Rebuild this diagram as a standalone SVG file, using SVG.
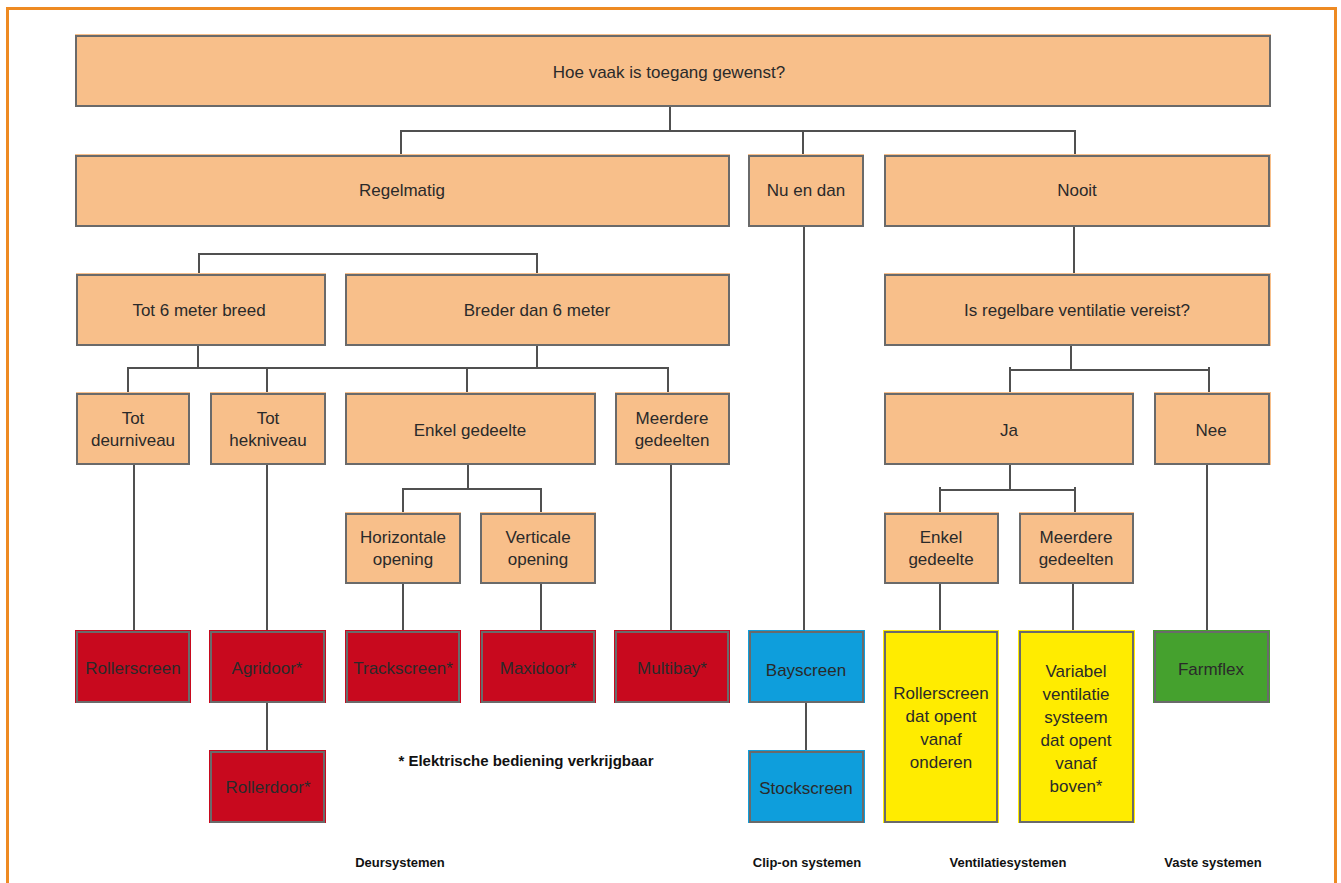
<svg xmlns="http://www.w3.org/2000/svg" width="1341" height="883" viewBox="0 0 1341 883">
<style>
.o{fill:#F8BF8A}.r{fill:#C8091E}.b{fill:#0E9EDC}.y{fill:#FFEC00}.g{fill:#45A12E}
.s{fill:none;stroke:#6A6A6A;stroke-width:2}
text{font-family:"Liberation Sans",Arial,sans-serif;font-size:17px;fill:#2a2a2a;text-anchor:middle;dominant-baseline:central}
.lbl{font-weight:bold;font-size:13px;fill:#111}
.fn{font-weight:bold;font-size:15px;fill:#111}
#conn path{fill:none;stroke:#505050;stroke-width:2}
</style>
<rect width="1341" height="883" fill="#fff"/>
<path d="M7.5,883 V8.5 H1335.5 V883" fill="none" stroke="#EE8A22" stroke-width="3"/>
<g id="conn">
<path d="M670,106 V131 M401,155 V131 H1075 V155 M803,131 V155"/>
<path d="M199,275 V254 H537 V275"/>
<path d="M198,346 V368 M537,346 V368 M128,393 V368 H668 V393 M267,368 V393 M467,368 V393"/>
<path d="M468,464 V489 M403,513 V489 H541 V513"/>
<path d="M134,464 V631 M267,464 V631 M403,583 V631 M541,583 V631 M671,464 V631 M267,702 V752"/>
<path d="M804,226 V631 M806,702 V752"/>
<path d="M1074,226 V275 M1071,346 V370 M1010,367 V393 M1010,370 H1209 M1209,367 V393"/>
<path d="M1010,464 V490 M940,487 V513 M940,490 H1075 M1075,487 V513"/>
<path d="M940,583 V631 M1073,583 V631 M1207,464 V631"/>
</g>
<g id="n-top"><rect class="o" x="75" y="34" width="1196" height="73"/><rect class="s" x="76" y="36" width="1194" height="70"/><text x="669" y="72">Hoe vaak is toegang gewenst?</text></g>
<g id="n-regel"><rect class="o" x="75" y="154" width="655" height="73"/><rect class="s" x="76" y="156" width="653" height="70"/><text x="402" y="190">Regelmatig</text></g>
<g id="n-nuendan"><rect class="o" x="748" y="154" width="116" height="73"/><rect class="s" x="749" y="156" width="114" height="70"/><text x="806" y="190">Nu en dan</text></g>
<g id="n-nooit"><rect class="o" x="884" y="154" width="387" height="73"/><rect class="s" x="885" y="156" width="384" height="70"/><text x="1077" y="190">Nooit</text></g>
<g id="n-tot6"><rect class="o" x="76" y="273" width="250" height="73"/><rect class="s" x="77" y="275" width="248" height="70"/><text x="199" y="310">Tot 6 meter breed</text></g>
<g id="n-breder"><rect class="o" x="345" y="273" width="385" height="73"/><rect class="s" x="346" y="275" width="383" height="70"/><text x="537" y="310">Breder dan 6 meter</text></g>
<g id="n-isregel"><rect class="o" x="884" y="273" width="387" height="73"/><rect class="s" x="885" y="275" width="384" height="70"/><text x="1077" y="310">Is regelbare ventilatie vereist?</text></g>
<g id="n-deur"><rect class="o" x="76" y="392" width="114" height="73"/><rect class="s" x="77" y="394" width="112" height="70"/><text x="133" y="418">Tot</text><text x="133" y="440">deurniveau</text></g>
<g id="n-hek"><rect class="o" x="210" y="392" width="116" height="73"/><rect class="s" x="211" y="394" width="114" height="70"/><text x="268" y="418">Tot</text><text x="268" y="440">hekniveau</text></g>
<g id="n-enkel"><rect class="o" x="345" y="392" width="251" height="73"/><rect class="s" x="346" y="394" width="249" height="70"/><text x="470" y="430">Enkel gedeelte</text></g>
<g id="n-meerdere"><rect class="o" x="615" y="392" width="115" height="73"/><rect class="s" x="616" y="394" width="113" height="70"/><text x="672" y="418">Meerdere</text><text x="672" y="440">gedeelten</text></g>
<g id="n-ja"><rect class="o" x="884" y="392" width="250" height="73"/><rect class="s" x="885" y="394" width="248" height="70"/><text x="1009" y="430">Ja</text></g>
<g id="n-nee"><rect class="o" x="1154" y="392" width="117" height="73"/><rect class="s" x="1155" y="394" width="114" height="70"/><text x="1211" y="430">Nee</text></g>
<g id="n-hor"><rect class="o" x="345" y="512" width="116" height="72"/><rect class="s" x="346" y="514" width="114" height="69"/><text x="403" y="537">Horizontale</text><text x="403" y="559">opening</text></g>
<g id="n-ver"><rect class="o" x="480" y="512" width="116" height="72"/><rect class="s" x="481" y="514" width="114" height="69"/><text x="538" y="537">Verticale</text><text x="538" y="559">opening</text></g>
<g id="n-enkel2"><rect class="o" x="884" y="512" width="115" height="72"/><rect class="s" x="885" y="514" width="113" height="69"/><text x="941" y="537">Enkel</text><text x="941" y="559">gedeelte</text></g>
<g id="n-meerdere2"><rect class="o" x="1019" y="512" width="115" height="72"/><rect class="s" x="1020" y="514" width="113" height="69"/><text x="1076" y="537">Meerdere</text><text x="1076" y="559">gedeelten</text></g>
<g id="n-rollerscreen"><rect class="r" x="75" y="630" width="116" height="73"/><rect class="s" x="77" y="632" width="112" height="70"/><text x="133" y="668">Rollerscreen</text></g>
<g id="n-agridoor"><rect class="r" x="209" y="630" width="117" height="73"/><rect class="s" x="211" y="632" width="113" height="70"/><text x="267" y="668">Agridoor*</text></g>
<g id="n-trackscreen"><rect class="r" x="345" y="630" width="116" height="73"/><rect class="s" x="347" y="632" width="112" height="70"/><text x="403" y="668">Trackscreen*</text></g>
<g id="n-maxidoor"><rect class="r" x="480" y="630" width="116" height="73"/><rect class="s" x="482" y="632" width="112" height="70"/><text x="538" y="668">Maxidoor*</text></g>
<g id="n-multibay"><rect class="r" x="614" y="630" width="116" height="73"/><rect class="s" x="616" y="632" width="112" height="70"/><text x="672" y="668">Multibay*</text></g>
<g id="n-rollerdoor"><rect class="r" x="209" y="750" width="117" height="73"/><rect class="s" x="211" y="752" width="113" height="70"/><text x="268" y="787">Rollerdoor*</text></g>
<g id="n-bayscreen"><rect class="b" x="748" y="630" width="117" height="73"/><rect class="s" x="750" y="632" width="113" height="70"/><text x="806" y="670">Bayscreen</text></g>
<g id="n-stockscreen"><rect class="b" x="748" y="750" width="117" height="73"/><rect class="s" x="750" y="752" width="113" height="70"/><text x="806" y="788">Stockscreen</text></g>
<g id="n-ry1"><rect class="y" x="883" y="630" width="116" height="193"/><rect class="s" x="885" y="632" width="112" height="190"/><text x="941" y="693">Rollerscreen</text><text x="941" y="716">dat opent</text><text x="941" y="739">vanaf</text><text x="941" y="762">onderen</text></g>
<g id="n-ry2"><rect class="y" x="1018" y="630" width="117" height="193"/><rect class="s" x="1020" y="632" width="113" height="190"/><text x="1076" y="671">Variabel</text><text x="1076" y="694">ventilatie</text><text x="1076" y="717">systeem</text><text x="1076" y="740">dat opent</text><text x="1076" y="763">vanaf</text><text x="1076" y="786">boven*</text></g>
<g id="n-farmflex"><rect class="g" x="1153" y="630" width="117" height="73"/><rect class="s" x="1155" y="632" width="113" height="70"/><text x="1211" y="669">Farmflex</text></g>
<text class="fn" x="526" y="760">* Elektrische bediening verkrijgbaar</text>
<text class="lbl" x="400" y="862">Deursystemen</text>
<text class="lbl" x="807" y="862">Clip-on systemen</text>
<text class="lbl" x="1008" y="862">Ventilatiesystemen</text>
<text class="lbl" x="1213" y="862">Vaste systemen</text>
</svg>
